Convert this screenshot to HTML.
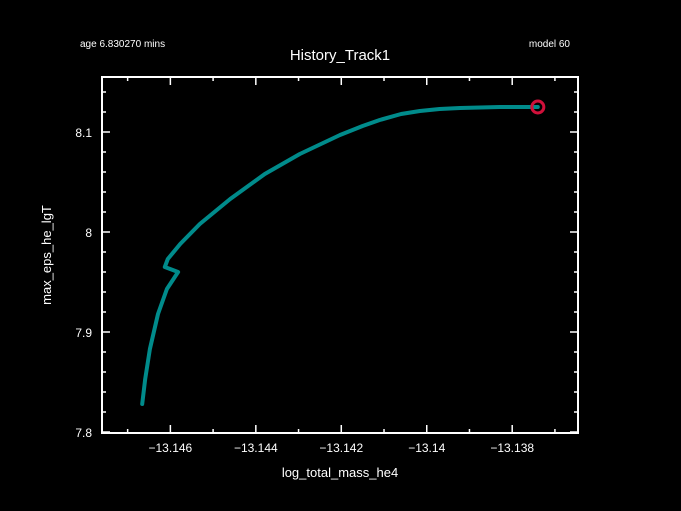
<!DOCTYPE html>
<html><head><meta charset="utf-8"><style>
body{margin:0;background:#000;width:681px;height:511px;overflow:hidden}
svg{display:block;font-family:"Liberation Sans",sans-serif;fill:#fff}
</style></head><body>
<svg id="c" width="681" height="511" viewBox="0 0 681 511">
<rect width="681" height="511" fill="#000"/>
<text x="80" y="47" font-size="10">age 6.830270 mins</text>
<text x="340" y="60" font-size="15" text-anchor="middle">History_Track1</text>
<text x="570" y="47" font-size="10" text-anchor="end">model 60</text>
<text x="340" y="477" font-size="13" text-anchor="middle">log_total_mass_he4</text>
<text x="0" y="0" font-size="13" text-anchor="middle" transform="translate(51,255) rotate(-90)">max_eps_he_lgT</text>
<g id="axes"></g>
<g id="plot"></g>
</svg>
<script>
const xTicks=[-13.146,-13.144,-13.142,-13.14,-13.138];
const xTickLabels=["\u221213.146","\u221213.144","\u221213.142","\u221213.14","\u221213.138"];
const yTicks=[7.8,7.9,8,8.1];
const yTickLabels=["7.8","7.9","8","8.1"];
const trackX=[-13.14666,-13.14659,-13.14648,-13.14629,-13.14608,-13.14582,-13.14613,-13.14606,-13.14577,-13.14531,-13.14460,-13.14379,-13.14297,-13.14203,-13.14150,-13.14110,-13.14060,-13.14016,-13.13970,-13.13922,-13.13829,-13.13740];
const trackY=[7.828,7.853,7.883,7.918,7.943,7.960,7.965,7.973,7.988,8.008,8.033,8.058,8.078,8.097,8.106,8.112,8.118,8.121,8.123,8.124,8.125,8.125];
const L=102,R=578,T=77,B=433,x0=-13.1476,x1=-13.13646,y0=7.799,y1=8.155;
const sx=v=>L+(v-x0)/(x1-x0)*(R-L), sy=v=>B-(v-y0)/(y1-y0)*(B-T);
const NS="http://www.w3.org/2000/svg";
const ax=document.getElementById('axes'), pl=document.getElementById('plot');
function mk(t,a,p){const e=document.createElementNS(NS,t);for(const k in a)e.setAttribute(k,a[k]);p.appendChild(e);return e;}
const fr=mk('rect',{x:L,y:T,width:R-L,height:B-T,fill:'none',stroke:'#fff','stroke-width':2},ax);


for(let v=-13.147;v<=-13.1365;v+=0.001){const X=sx(v);const major=xTicks.some(t=>Math.abs(t-v)<1e-6);const h=major?8:4;
 const a=mk('line',{x1:X,x2:X,y1:B,y2:B-h,stroke:'#fff','stroke-width':1.5},ax);
 
 
 const b=mk('line',{x1:X,x2:X,y1:T,y2:T+h,stroke:'#fff','stroke-width':1.5},ax);
 
 }
for(let v=7.8;v<=8.155;v+=0.02){const Y=sy(v);const major=yTicks.some(t=>Math.abs(t-v)<1e-6);const h=major?8:4;
 const a=mk('line',{x1:L,x2:L+h,y1:Y,y2:Y,stroke:'#fff','stroke-width':1.5},ax);
 
 
 const b=mk('line',{x1:R,x2:R-h,y1:Y,y2:Y,stroke:'#fff','stroke-width':1.5},ax);
 
 }
xTicks.forEach((v,i)=>{const t=mk('text',{x:sx(v),y:B+19,'font-size':12,'text-anchor':'middle'},ax);t.textContent=xTickLabels[i];
 
 });
yTicks.forEach((v,i)=>{const t=mk('text',{x:L-10,y:sy(v)+5,'font-size':12,'text-anchor':'end'},ax);t.textContent=yTickLabels[i];
 
 });
const d=trackX.map((v,i)=>(i?'L':'M')+sx(v).toFixed(1)+','+sy(trackY[i]).toFixed(1)).join('');
const p=mk('path',{d:d,fill:'none',stroke:'#008b8b','stroke-width':4,'stroke-linejoin':'round','stroke-linecap':'round'},pl);


const n=trackX.length-1;
const c=mk('circle',{cx:sx(trackX[n]),cy:sy(trackY[n]),r:6,fill:'none',stroke:'#d0103a','stroke-width':3},pl);


</script>
</body></html>
